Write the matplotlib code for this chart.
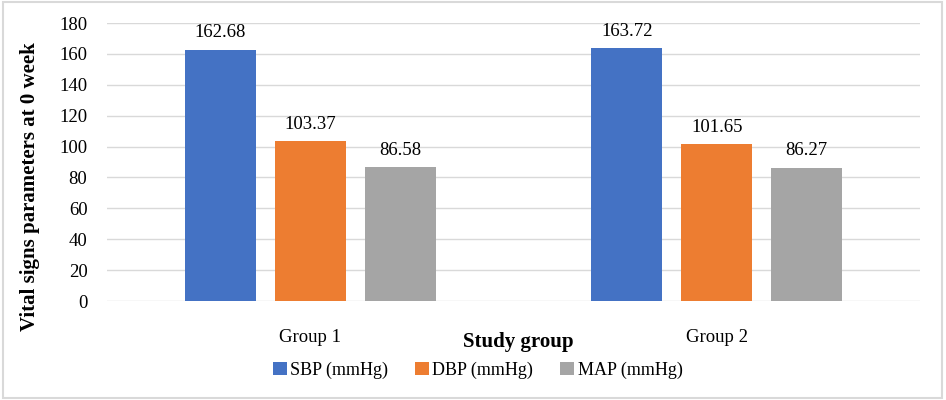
import numpy as np
import matplotlib.pyplot as plt
from matplotlib.patches import Rectangle

# data
groups = ["Group 1", "Group 2"]
series = ["SBP (mmHg)", "DBP (mmHg)", "MAP (mmHg)"]
sbp = [162.68, 163.72]
dbp = [103.37, 101.65]
map_ = [86.58, 86.27]
colors = ["#4472C4", "#ED7D31", "#A5A5A5"]

plt.rcParams['font.family'] = ['Liberation Serif', 'DejaVu Serif']

fig = plt.figure(figsize=(9.46, 4.0), dpi=100)
ax = fig.add_axes([0.113, 0.2475, 0.8595, 0.695])

x = np.arange(len(groups))
width = 0.1747
step = 0.2214
for i, (vals, name, c) in enumerate(zip([sbp, dbp, map_], series, colors)):
    bars = ax.bar(x + (i - 1) * step, vals, width, color=c, label=name, zorder=3)
    for b, v in zip(bars, vals):
        ax.annotate(f"{v:.2f}", (b.get_x() + b.get_width() / 2, v),
                    xytext=(0, 6), textcoords="offset points",
                    ha="center", va="bottom", fontsize=13.5)

ax.set_xlim(-0.5, 1.5)
ax.set_ylim(0, 180)
ax.set_yticks(range(0, 181, 20))
ax.yaxis.grid(True, color="#D9D9D9", linewidth=1, zorder=0)
for s in ax.spines.values():
    s.set_visible(False)
ax.tick_params(axis="both", length=0, labelsize=13.5)
ax.tick_params(axis="y", pad=14)
ax.tick_params(axis="x", pad=20)
ax.set_xticks(x)
ax.set_xticklabels(groups)

ax.set_ylabel("Vital signs parameters at 0 week", fontsize=15,
              fontweight="bold")
ax.yaxis.set_label_coords(-0.082, 0.41)
fig.text(0.5476, 0.145, "Study group", fontsize=15, fontweight="bold",
         ha="center", va="center")

fig.legend(loc="center", bbox_to_anchor=(0.505, 0.075), ncol=3, frameon=False,
           fontsize=13, handlelength=0.75, handleheight=0.75,
           handletextpad=0.2, columnspacing=1.5)

fig.patches.append(Rectangle((0.003, 0.005), 0.993, 0.99, transform=fig.transFigure,
                             fill=False, edgecolor="#D9D9D9", linewidth=1.5))

fig.savefig("out.png", dpi=100)
